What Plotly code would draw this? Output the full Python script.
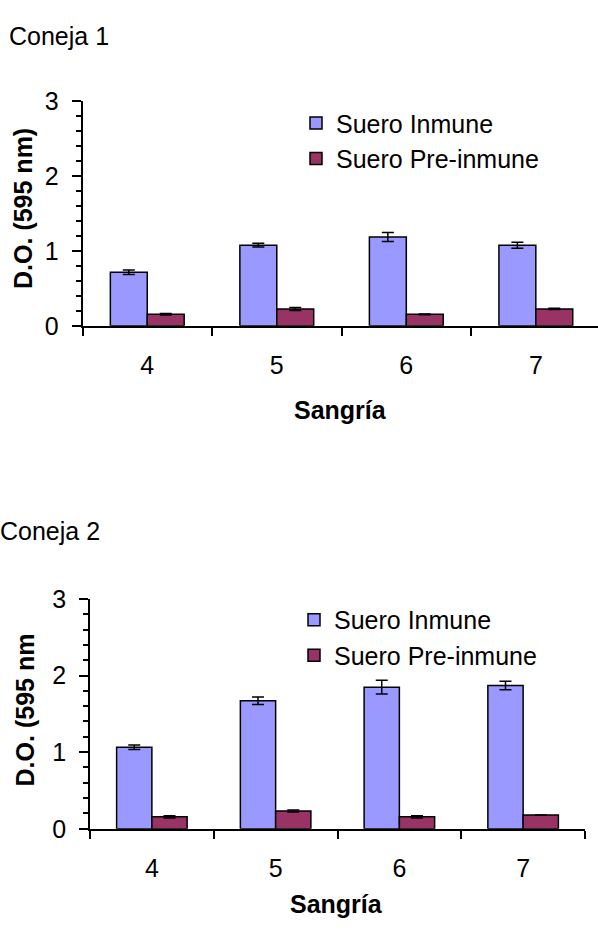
import plotly.graph_objects as go

# ---- data ----
sangria = ["4", "5", "6", "7"]

c1_inmune = [0.714, 1.076, 1.184, 1.076]
c1_inmune_err = [0.03, 0.025, 0.06, 0.04]
c1_pre = [0.153, 0.226, 0.153, 0.226]
c1_pre_err = [0.01, 0.02, 0.005, 0.008]

c2_inmune = [1.063, 1.67, 1.848, 1.87]
c2_inmune_err = [0.03, 0.05, 0.09, 0.055]
c2_pre = [0.156, 0.232, 0.156, 0.18]
c2_pre_err = [0.015, 0.012, 0.015, 0.0]

series_names = ["Suero Inmune", "Suero Pre-inmune"]
series_colors = ["#9999FF", "#993366"]

W, H = 598, 932
FONT = "Liberation Sans, Arial, sans-serif"
FS = 25


def fx(px):
    return px / W


def fy(py):
    return 1 - py / H


fig = go.Figure()


def add_bars(values, errs, name, color, xa, ya, legend):
    fig.add_trace(go.Bar(
        x=sangria, y=values, name=name,
        marker=dict(color=color, line=dict(color="black", width=1.5)),
        error_y=dict(type="data", array=errs, visible=True,
                     color="black", thickness=1.5, width=6),
        xaxis=xa, yaxis=ya, legend=legend, showlegend=True,
    ))


add_bars(c1_inmune, c1_inmune_err, series_names[0], series_colors[0], "x", "y", "legend")
add_bars(c1_pre, c1_pre_err, series_names[1], series_colors[1], "x", "y", "legend")
add_bars(c2_inmune, c2_inmune_err, series_names[0], series_colors[0], "x2", "y2", "legend2")
add_bars(c2_pre, c2_pre_err, series_names[1], series_colors[1], "x2", "y2", "legend2")

tickfont = dict(family=FONT, size=FS, color="black")


def xaxis_cfg(domain, rng, anchor):
    return dict(
        domain=domain, anchor=anchor, type="category", range=rng,
        showline=True, linecolor="black", linewidth=1.5,
        ticks="outside", tickson="boundaries", ticklen=8, tickwidth=1.5,
        tickcolor="black", tickfont=tickfont, ticklabelstandoff=16,
        showgrid=False, zeroline=False, fixedrange=True,
    )


def yaxis_cfg(domain, anchor):
    return dict(
        domain=domain, anchor=anchor, range=[0, 3], tick0=0, dtick=1,
        showline=True, linecolor="black", linewidth=1.5,
        ticks="outside", ticklen=9, tickwidth=1.5, tickcolor="black",
        tickfont=tickfont, ticklabelstandoff=8,
        minor=dict(tick0=0, dtick=0.2, ticks="outside", ticklen=5,
                   tickwidth=1.5, tickcolor="black", showgrid=False),
        showgrid=False, zeroline=False, fixedrange=True,
    )


legend_font = dict(family=FONT, size=FS, color="black")

fig.update_layout(
    width=W, height=H,
    margin=dict(l=0, r=0, t=0, b=0),
    paper_bgcolor="white", plot_bgcolor="white",
    barmode="group", bargap=0.43, bargroupgap=0,
    font=dict(family=FONT, color="black"),
    xaxis=xaxis_cfg([fx(82.5), 1.0], [-0.5, 3.48], "y"),
    yaxis=yaxis_cfg([fy(321.5), fy(89.5)], "x"),
    xaxis2=xaxis_cfg([fx(90), fx(585)], [-0.5, 3.5], "y2"),
    yaxis2=yaxis_cfg([fy(840), fy(603)], "x2"),
    legend=dict(x=fx(296), y=fy(89), xanchor="left", yanchor="top",
                font=legend_font, bgcolor="rgba(0,0,0,0)", tracegroupgap=0),
    legend2=dict(x=fx(294), y=fy(601), xanchor="left", yanchor="top",
                 font=legend_font, bgcolor="rgba(0,0,0,0)", tracegroupgap=0),
)

ann_font = dict(family=FONT, size=FS, color="black")
title_font = dict(family=FONT, size=FS, color="black", weight="bold")


def add_text(text, x, y, font, angle=0, xanchor="center"):
    fig.add_annotation(text=text, x=fx(x), y=fy(y), textangle=angle,
                       xanchor=xanchor, yanchor="middle",
                       xref="paper", yref="paper", showarrow=False, font=font)


add_text("Coneja 1", 7, 23, ann_font, xanchor="left")
add_text("Coneja 2", -2, 533, ann_font, xanchor="left")
add_text("D.O. (595 nm)", 23, 201, title_font, angle=-90)
add_text("Sangría", 340, 408, title_font)
add_text("D.O. (595 nm", 25, 718, title_font, angle=-90)
add_text("Sangría", 336, 918, title_font)

fig.write_html("out.html", include_plotlyjs=True,
               config={"displayModeBar": False},
               post_script="document.body.style.margin='0';document.body.style.overflow='hidden';")
